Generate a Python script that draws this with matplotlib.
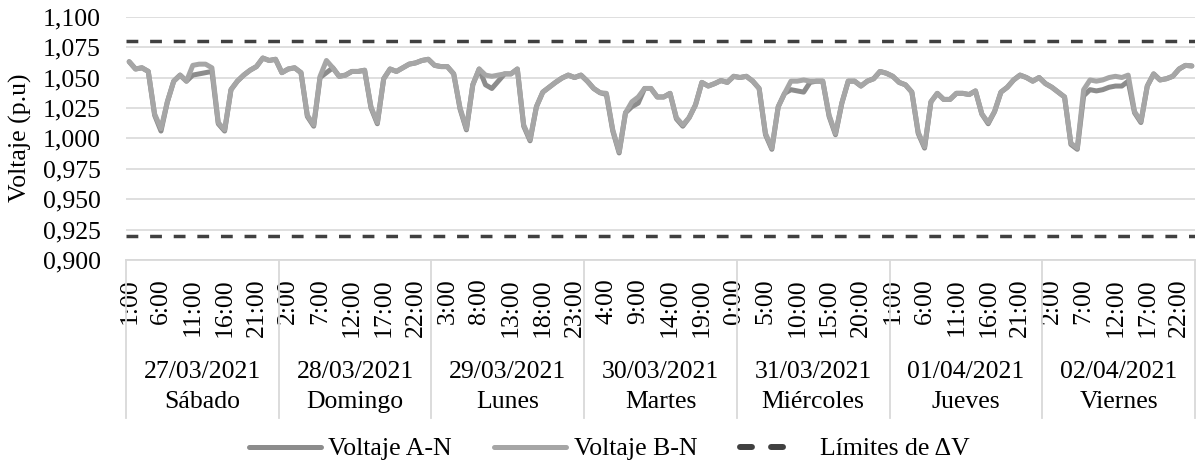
import numpy as np
import matplotlib
matplotlib.use("Agg")
import matplotlib.pyplot as plt
from matplotlib.lines import Line2D
from matplotlib.transforms import blended_transform_factory

plt.rcParams['font.family'] = ['Liberation Serif', 'DejaVu Serif']

# Category axis: one group per day, hourly samples (1:00 ... 0:00)
dates = ["27/03/2021", "28/03/2021", "29/03/2021", "30/03/2021",
         "31/03/2021", "01/04/2021", "02/04/2021"]
weekdays = ["Sábado", "Domingo", "Lunes", "Martes",
            "Miércoles", "Jueves", "Viernes"]
# hour labels shown every fifth sample
hour_labels = ["1:00", "6:00", "11:00", "16:00", "21:00",
               "2:00", "7:00", "12:00", "17:00", "22:00",
               "3:00", "8:00", "13:00", "18:00", "23:00",
               "4:00", "9:00", "14:00", "19:00", "0:00",
               "5:00", "10:00", "15:00", "20:00",
               "1:00", "6:00", "11:00", "16:00", "21:00",
               "2:00", "7:00", "12:00", "17:00", "22:00"]

# Phase voltages in p.u.
voltage_an = [
    1.063, 1.057, 1.058, 1.055, 1.019, 1.006, 1.030, 1.047, 1.052, 1.047, 1.052, 1.053,
    1.054, 1.055, 1.012, 1.006, 1.040, 1.047, 1.052, 1.056, 1.059, 1.066, 1.064, 1.065,
    1.054, 1.057, 1.058, 1.054, 1.018, 1.010, 1.050, 1.054, 1.058, 1.051, 1.052, 1.055,
    1.055, 1.056, 1.025, 1.012, 1.049, 1.057, 1.055, 1.058, 1.061, 1.062, 1.064, 1.065,
    1.060, 1.059, 1.059, 1.053, 1.024, 1.007, 1.044, 1.057, 1.044, 1.041, 1.047, 1.053,
    1.053, 1.057, 1.010, 0.998, 1.026, 1.038, 1.042, 1.046, 1.0495, 1.052, 1.050, 1.052,
    1.047, 1.041, 1.0375, 1.036, 1.006, 0.988, 1.021, 1.026, 1.029, 1.041, 1.041, 1.034,
    1.034, 1.037, 1.016, 1.010, 1.017, 1.0275, 1.046, 1.043, 1.045, 1.0475, 1.046, 1.051,
    1.050, 1.051, 1.047, 1.041, 1.003, 0.991, 1.026, 1.037, 1.040, 1.039, 1.038, 1.046,
    1.047, 1.047, 1.018, 1.003, 1.029, 1.047, 1.047, 1.043, 1.047, 1.049, 1.055, 1.0535,
    1.051, 1.046, 1.044, 1.038, 1.004, 0.992, 1.030, 1.037, 1.032, 1.032, 1.037, 1.037,
    1.036, 1.039, 1.020, 1.012, 1.022, 1.038, 1.042, 1.048, 1.052, 1.050, 1.047, 1.050,
    1.045, 1.042, 1.038, 1.034, 0.995, 0.991, 1.035, 1.040, 1.039, 1.040, 1.042, 1.043,
    1.043, 1.047, 1.021, 1.013, 1.043, 1.053, 1.048, 1.049, 1.051, 1.057, 1.060, 1.0595,
]
voltage_bn = [
    1.063, 1.057, 1.058, 1.055, 1.020, 1.008, 1.030, 1.047, 1.052, 1.047, 1.060, 1.061,
    1.061, 1.058, 1.013, 1.007, 1.040, 1.047, 1.052, 1.056, 1.059, 1.066, 1.064, 1.065,
    1.054, 1.057, 1.058, 1.054, 1.019, 1.011, 1.051, 1.064, 1.058, 1.051, 1.052, 1.055,
    1.055, 1.056, 1.026, 1.013, 1.049, 1.057, 1.055, 1.058, 1.061, 1.062, 1.064, 1.065,
    1.060, 1.059, 1.059, 1.053, 1.025, 1.008, 1.044, 1.057, 1.052, 1.051, 1.052, 1.053,
    1.053, 1.057, 1.011, 0.999, 1.026, 1.038, 1.042, 1.046, 1.0495, 1.052, 1.050, 1.052,
    1.047, 1.041, 1.0375, 1.037, 1.007, 0.989, 1.021, 1.030, 1.034, 1.041, 1.041, 1.034,
    1.034, 1.037, 1.017, 1.011, 1.017, 1.0275, 1.046, 1.043, 1.045, 1.0475, 1.046, 1.051,
    1.050, 1.051, 1.047, 1.041, 1.004, 0.992, 1.026, 1.037, 1.047, 1.047, 1.048, 1.047,
    1.047, 1.047, 1.019, 1.004, 1.029, 1.047, 1.047, 1.043, 1.047, 1.049, 1.055, 1.0535,
    1.051, 1.046, 1.044, 1.038, 1.005, 0.993, 1.030, 1.037, 1.032, 1.032, 1.037, 1.037,
    1.036, 1.039, 1.020, 1.013, 1.022, 1.038, 1.042, 1.048, 1.052, 1.050, 1.047, 1.050,
    1.045, 1.042, 1.038, 1.034, 0.996, 0.992, 1.040, 1.048, 1.047, 1.048, 1.050, 1.051,
    1.050, 1.052, 1.022, 1.014, 1.043, 1.053, 1.048, 1.049, 1.051, 1.057, 1.060, 1.0595,
]

# Regulation limits for the voltage deviation
limit_low = 0.92
limit_high = 1.08

y_ticks = [0.900, 0.925, 0.950, 0.975, 1.000, 1.025, 1.050, 1.075, 1.100]
y_tick_labels = ["0,900", "0,925", "0,950", "0,975", "1,000",
                 "1,025", "1,050", "1,075", "1,100"]

W, H = 1198, 465
FS = 18.5
GRID = '#d9d9d9'
COLOR_AN = '#8c8c8c'
COLOR_BN = '#a6a6a6'
COLOR_LIM = '#404040'

fig = plt.figure(figsize=(W / 100, H / 100), dpi=100)
ax = fig.add_axes([126 / W, 1 - 260 / H, (1195 - 126) / W, (260 - 16.7) / H])

n = len(voltage_an)
x = np.arange(n)
x0, x1 = -0.5, n - 0.5

ax.plot(x, voltage_an, color=COLOR_AN, lw=3.6, solid_joinstyle='round',
        solid_capstyle='round', zorder=3)
ax.plot(x, voltage_bn, color=COLOR_BN, lw=3.6, solid_joinstyle='round',
        solid_capstyle='round', zorder=4)
for lim in (limit_high, limit_low):
    ax.plot([x0, x1], [lim, lim], color=COLOR_LIM, lw=2.5,
            ls=(0, (3.4, 3.4)), zorder=2)

ax.set_xlim(x0, x1)
ax.set_ylim(y_ticks[0], y_ticks[-1])

ax.set_yticks(y_ticks)
ax.set_yticklabels(y_tick_labels, fontsize=FS)
ax.yaxis.grid(True, color=GRID, lw=1.2)
ax.set_axisbelow(True)
ax.tick_params(axis='y', length=0, pad=18)

ax.set_xticks(np.arange(0, n, 5))
ax.set_xticklabels(hour_labels, rotation=90, fontsize=FS)
ax.tick_params(axis='x', length=0, pad=13)

for side in ('top', 'left', 'right'):
    ax.spines[side].set_visible(False)
ax.spines['bottom'].set_color(GRID)
ax.spines['bottom'].set_linewidth(1.3)

# Grouped category axis: day separators, dates and weekday names
trans = blended_transform_factory(ax.transData, ax.transAxes)
per_day = n // len(dates)
for k in range(len(dates) + 1):
    xs = x0 + k * per_day
    ax.plot([xs, xs], [0, -0.649], color=GRID, lw=1.3, transform=trans,
            clip_on=False)
for k, (d, wd) in enumerate(zip(dates, weekdays)):
    xc = x0 + (k + 0.5) * per_day
    ax.text(xc, -0.460, d, transform=trans, ha='center', va='center', fontsize=FS)
    ax.text(xc, -0.584, wd, transform=trans, ha='center', va='center', fontsize=FS)

fig.text(20 / W, 1 - 138 / H, 'Voltaje (p.u)', rotation=90, ha='center',
         va='center', fontsize=FS)

legend_handles = [
    Line2D([], [], color=COLOR_AN, lw=3.6, solid_capstyle='round'),
    Line2D([], [], color=COLOR_BN, lw=3.6, solid_capstyle='round'),
    Line2D([], [], color=COLOR_LIM, lw=4.3, dash_capstyle='round',
           ls=(0, (2.0, 3.2, 2.0, 12))),
]
legend_labels = ['Voltaje A-N', 'Voltaje B-N', 'Límites de ΔV']
fig.legend(legend_handles, legend_labels, loc='center',
           bbox_to_anchor=(609 / W, 1 - 449 / H), ncol=3,
           frameon=False, handlelength=2.8, handletextpad=0.3,
           columnspacing=1.65, fontsize=FS)

fig.savefig('out.png', dpi=100)
